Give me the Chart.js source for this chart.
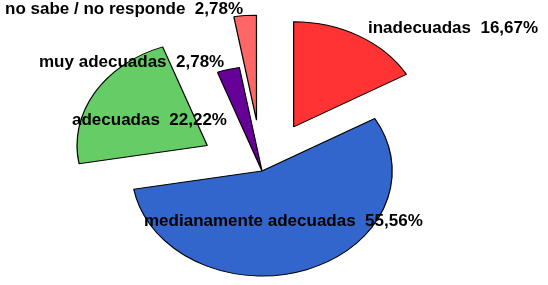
<!DOCTYPE html>
<html>
<head>
<meta charset="utf-8">
<script src="https://cdn.jsdelivr.net/npm/chart.js@4"></script>
<style>
  html, body { margin: 0; padding: 0; background: #fff; }
</style>
</head>
<body>
<canvas id="grafico" width="548" height="285"></canvas>
<script>
// categorias y porcentajes
const categorias = ['inadecuadas', 'medianamente adecuadas', 'adecuadas', 'muy adecuadas', 'no sabe / no responde'];
const porcentajes = [16.67, 55.56, 22.22, 2.78, 2.78];
const colores = ['#ff3333', '#3366cc', '#66cc66', '#660099', '#ff6666'];

// distancia de separacion de cada porcion
const separacion = [51, 0, 51, 0, 51];
const escalaX = 1.24; // la torta se ve achatada (eliptica)

// posicion de los textos (x izquierda, linea base)
const posTextos = [[368, 33], [144, 226], [72, 125], [39, 67], [5, 14]];

function fmt(v) {
  return v.toFixed(2).replace('.', ',') + '%';
}

// separa las porciones y estira la torta en horizontal
const tortaExplotada = {
  id: 'tortaExplotada',
  afterUpdate(chart) {
    const meta = chart.getDatasetMeta(0);
    meta.data.forEach((arc, i) => {
      const mid = (arc.startAngle + arc.endAngle) / 2;
      arc.x += Math.cos(mid) * separacion[i];
      arc.y += Math.sin(mid) * separacion[i];
    });
  },
  beforeDatasetsDraw(chart) {
    const a = chart.chartArea;
    const cx = (a.left + a.right) / 2;
    const ctx = chart.ctx;
    ctx.save();
    ctx.translate(cx, 0);
    ctx.scale(escalaX, 1);
    ctx.translate(-cx, 0);
  },
  afterDatasetsDraw(chart) {
    chart.ctx.restore();
  },
  afterDraw(chart) {
    const ctx = chart.ctx;
    ctx.save();
    ctx.font = 'bold 17px "Liberation Sans", Arial, sans-serif';
    ctx.fillStyle = '#000';
    ctx.textAlign = 'left';
    ctx.textBaseline = 'alphabetic';
    categorias.forEach((c, i) => {
      ctx.fillText(c + '  ' + fmt(porcentajes[i]), posTextos[i][0], posTextos[i][1]);
    });
    ctx.restore();
  }
};

new Chart(document.getElementById('grafico'), {
  type: 'pie',
  data: {
    labels: categorias,
    datasets: [{
      data: porcentajes,
      backgroundColor: colores,
      borderColor: '#000',
      borderWidth: 1
    }]
  },
  options: {
    responsive: false,
    animation: false,
    radius: 105,
    layout: { padding: { left: 0, right: 24, top: 57, bottom: 0 } },
    plugins: {
      legend: { display: false },
      tooltip: { enabled: false }
    }
  },
  plugins: [tortaExplotada]
});
</script>
</body>
</html>
